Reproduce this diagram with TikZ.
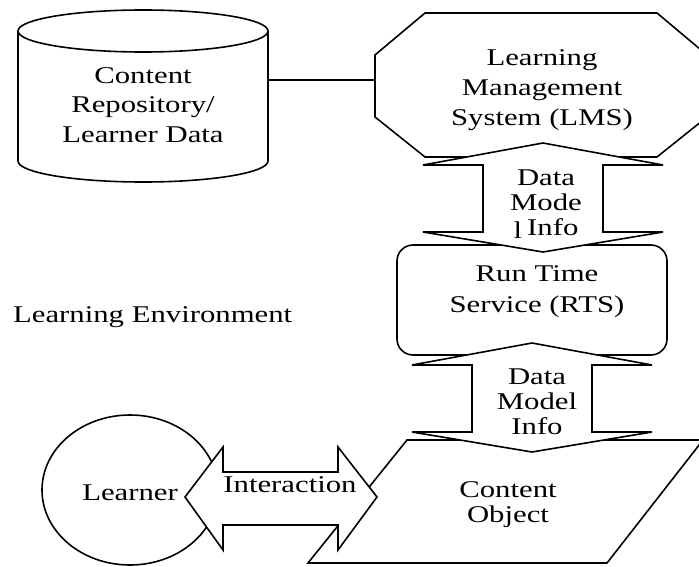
\documentclass[tikz,border=0pt]{standalone}
\usepackage{fontspec}
\setmainfont{Liberation Serif}[FakeStretch=1.28]
\begin{document}
\begin{tikzpicture}[x=1pt,y=-1pt,
  outl/.style={draw=black,line width=1.6pt,line join=miter},
  bigarrow/.style={outl,fill=white},
  lbl/.style={inner sep=0pt,align=center,font=\fontsize{24}{30}\selectfont},
  lbltight/.style={lbl,font=\fontsize{24}{25}\selectfont}]
\clip (0,0) rectangle (699,567);
\useasboundingbox (0,0) rectangle (699,567);
% repository cylinder
\draw[outl] (18,31) -- (18,161) arc[start angle=180,end angle=0,x radius=125,y radius=21] -- (268,31);
\draw[outl] (143,31) ellipse[x radius=125,y radius=21];
% connector
\coordinate (cylR) at (268,80);
\coordinate (lmsL) at (375,80);
\draw[outl] (cylR) -- (lmsL);
% LMS octagon
\draw[outl] (425,13) -- (657,13) -- (707,55) -- (707,117) -- (657,157) -- (425,157) -- (375,117) -- (375,55) -- cycle;
% RTS box
\draw[outl,rounded corners=16pt] (397,245) rectangle (667,355);
% content object parallelogram
\draw[outl] (407,440) -- (703,440) -- (607,563) -- (308,563) -- cycle;
% learner
\draw[outl] (130,490) ellipse[x radius=88,y radius=75];
% arrows
\draw[bigarrow] (543,143) -- (663,165) -- (603,165) -- (603,232) -- (663,232) -- (543,252) -- (423,232) -- (483,232) -- (483,165) -- (423,165) -- cycle;
\draw[bigarrow] (532,343) -- (652,365) -- (592,365) -- (592,432) -- (652,432) -- (532,452) -- (412,432) -- (472,432) -- (472,365) -- (412,365) -- cycle;
\draw[bigarrow] (185,497) -- (223,447) -- (223,472) -- (338,472) -- (338,447) -- (377,497) -- (338,550) -- (338,525) -- (223,525) -- (223,550) -- cycle;
% texts
\node[lbl,font=\fontsize{24}{29.5}\selectfont] (repo) at (143,105) {Content\\Repository/\\Learner Data};
\node[lbl] (lms) at (542,90) {Learning\\Management\\System (LMS)};
\node[lbltight] (dmi1) at (546,204) {Data\\Mode\\\raisebox{-3pt}{l}\hspace{5pt}Info};
\node[lbl,font=\fontsize{24}{31}\selectfont] (rts) at (537,292) {Run Time\\Service (RTS)};
\node[lbltight] (dmi2) at (537,402) {Data\\Model\\Info};
\node[lbltight] (co) at (508,505) {Content\\Object};
\node[lbl,anchor=base] (learner) at (130,500) {Learner};
\node[lbl,anchor=base] (inter) at (290,492) {Interaction};
\node[lbl,anchor=base west] (env) at (13,322) {Learning Environment};
\end{tikzpicture}
\end{document}
